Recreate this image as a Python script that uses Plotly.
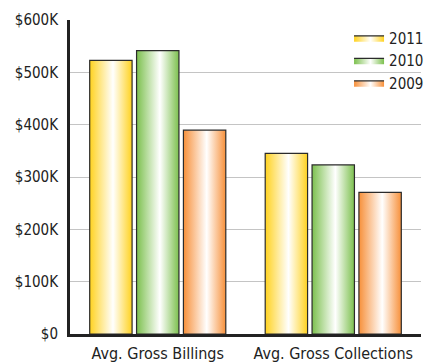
import plotly.graph_objects as go

# Chart data
categories = ["Avg. Gross Billings", "Avg. Gross Collections"]
years = ["2011", "2010", "2009"]
values_2011 = [523000, 345000]
values_2010 = [541500, 323000]
values_2009 = [389500, 270500]
y_tick_vals = [0, 100000, 200000, 300000, 400000, 500000, 600000]
y_tick_text = ["$0", "$100K", "$200K", "$300K", "$400K", "$500K", "$600K"]

series = [values_2011, values_2010, values_2009]
edge_colors = ["#FFD21F", "#7CC04E", "#F7903A"]

# Bar geometry in category units
slot = 0.267
bar_w = 0.2415
font_family = "DejaVu Sans Condensed, Liberation Sans Narrow, sans-serif"

fig = go.Figure()
for si, (name, vals, col) in enumerate(zip(years, series, edge_colors)):
    offset = (si - 1) * slot
    for ci, v in enumerate(vals):
        x0 = ci + offset - bar_w / 2
        x1 = ci + offset + bar_w / 2
        fig.add_trace(go.Scatter(
            x=[x0, x0, x1, x1, x0],
            y=[0, v, v, 0, 0],
            mode="lines",
            fill="toself",
            fillgradient=dict(
                type="horizontal",
                colorscale=[[0, col], [0.55, "#FFFFFF"], [1, col]],
            ),
            line=dict(color="#2b2b2b", width=1.2),
            name=name,
            legendgroup=name,
            showlegend=(ci == 0),
            hoverinfo="skip",
        ))

fig.update_layout(
    width=429,
    height=363,
    margin=dict(l=70, r=8, t=20, b=29, autoexpand=False),
    paper_bgcolor="white",
    plot_bgcolor="white",
    font=dict(family=font_family, size=15, color="#222222"),
    showlegend=True,
    legend=dict(
        x=0.795, y=0.995, xanchor="left", yanchor="top",
        bgcolor="rgba(0,0,0,0)",
        font=dict(size=15, color="#222222"),
        itemwidth=30,
        tracegroupgap=0,
    ),
    xaxis=dict(
        range=[-0.5, 1.5],
        tickvals=[0, 1],
        ticktext=categories,
        showgrid=False,
        zeroline=False,
        showline=True,
        linecolor="#222222",
        linewidth=3,
        ticks="",
        ticklabelstandoff=3,
        tickfont=dict(size=16),
        automargin=False,
        fixedrange=True,
    ),
    yaxis=dict(
        range=[0, 600000],
        tickvals=y_tick_vals,
        ticktext=y_tick_text,
        showgrid=True,
        gridcolor="#c4c4c4",
        gridwidth=1,
        zeroline=False,
        showline=True,
        linecolor="#222222",
        linewidth=3,
        ticks="",
        ticklabelstandoff=6,
        tickfont=dict(size=15),
        automargin=False,
        fixedrange=True,
    ),
)

fig.write_html("out.html")
